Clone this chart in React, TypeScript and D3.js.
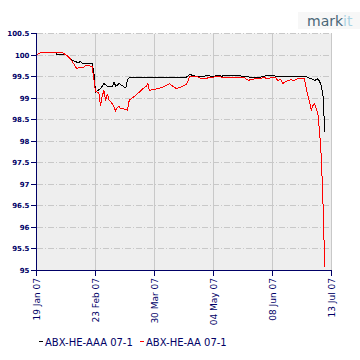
import React from "react";
import * as d3 from "d3";

const xTickDates = ["2007-01-19", "2007-02-23", "2007-03-30", "2007-05-04", "2007-06-08", "2007-07-13"];
const yTickValues = [95, 95.5, 96, 96.5, 97, 97.5, 98, 98.5, 99, 99.5, 100, 100.5];
const seriesNames = ["ABX-HE-AAA 07-1", "ABX-HE-AA 07-1"];
const seriesColors = ["#000000", "#ff0000"];

const aaaDates = [
  "2007-01-19", "2007-01-22", "2007-01-30", "2007-01-31", "2007-02-05", "2007-02-07", "2007-02-09",
  "2007-02-13", "2007-02-14", "2007-02-15", "2007-02-21", "2007-02-22", "2007-02-23", "2007-02-26",
  "2007-02-28", "2007-03-02", "2007-03-05", "2007-03-06", "2007-03-07", "2007-03-09", "2007-03-12",
  "2007-03-13", "2007-03-14", "2007-03-15", "2007-03-27", "2007-04-18", "2007-04-20", "2007-04-23",
  "2007-04-27", "2007-05-01", "2007-05-03", "2007-05-07", "2007-05-09", "2007-05-11", "2007-05-18",
  "2007-05-21", "2007-05-25", "2007-06-01", "2007-06-04", "2007-06-07", "2007-06-11", "2007-06-27",
  "2007-07-01", "2007-07-03", "2007-07-05", "2007-07-06", "2007-07-07", "2007-07-08", "2007-07-09",
];
const aaaValues = [
  100.01, 100.06, 100.07, 100.02, 100.02, 99.95, 99.88,
  99.82, 99.85, 99.81, 99.81, 99.61, 99.14, 99.22,
  99.34, 99.28, 99.27, 99.38, 99.27, 99.34, 99.26,
  99.24, 99.43, 99.48, 99.49, 99.49, 99.55, 99.51,
  99.5, 99.53, 99.5, 99.53, 99.51, 99.53, 99.53,
  99.51, 99.49, 99.49, 99.52, 99.52, 99.51, 99.51,
  99.45, 99.41, 99.45, 99.38, 99.28, 99.05, 98.21,
];

const aaDates = [
  "2007-01-19", "2007-01-22", "2007-02-02", "2007-02-04", "2007-02-07", "2007-02-09", "2007-02-11",
  "2007-02-12", "2007-02-13", "2007-02-16", "2007-02-17", "2007-02-21", "2007-02-23", "2007-02-25",
  "2007-02-26", "2007-02-27", "2007-02-28", "2007-03-01", "2007-03-02", "2007-03-03", "2007-03-05",
  "2007-03-07", "2007-03-08", "2007-03-09", "2007-03-10", "2007-03-12", "2007-03-14", "2007-03-15",
  "2007-03-18", "2007-03-21", "2007-03-23", "2007-03-25", "2007-03-26", "2007-03-27", "2007-03-29",
  "2007-04-01", "2007-04-04", "2007-04-06", "2007-04-08", "2007-04-09", "2007-04-12", "2007-04-15",
  "2007-04-18", "2007-04-20", "2007-04-24", "2007-04-27", "2007-05-01", "2007-05-07", "2007-05-09",
  "2007-05-11", "2007-05-22", "2007-05-23", "2007-05-25", "2007-05-26", "2007-05-31", "2007-06-03",
  "2007-06-05", "2007-06-08", "2007-06-10", "2007-06-11", "2007-06-13", "2007-06-14", "2007-06-17",
  "2007-06-18", "2007-06-19", "2007-06-20", "2007-06-23", "2007-06-27", "2007-06-28", "2007-06-29",
  "2007-06-30", "2007-07-01", "2007-07-02", "2007-07-03", "2007-07-04", "2007-07-05", "2007-07-06",
  "2007-07-07", "2007-07-08", "2007-07-09",
];
const aaValues = [
  100.01, 100.06, 100.07, 100.04, 99.96, 99.86, 99.74,
  99.67, 99.72, 99.72, 99.76, 99.74, 99.16, 99.12,
  98.82, 99.05, 99.18, 98.93, 99.1, 98.96, 98.87,
  98.7, 98.79, 98.8, 98.75, 98.75, 98.72, 98.95,
  99.04, 99.14, 99.22, 99.27, 99.34, 99.18, 99.2,
  99.22, 99.26, 99.3, 99.34, 99.3, 99.22, 99.26,
  99.32, 99.51, 99.5, 99.45, 99.47, 99.51, 99.48,
  99.49, 99.49, 99.45, 99.41, 99.44, 99.45, 99.48,
  99.45, 99.48, 99.48, 99.41, 99.43, 99.34, 99.41,
  99.41, 99.44, 99.4, 99.45, 99.45, 99.22, 99.05,
  98.9, 98.72, 98.83, 98.87, 98.76, 98.6, 98.2,
  97.6, 96.5, 95.07,
];

const NAVY = "#000066";
const GRID = "#c8c8c8";
const BG = "#eeeeee";

const parse = d3.timeParse("%Y-%m-%d");
const fmt = d3.timeFormat("%d %b %y");

export default function App() {
  const tickDates = xTickDates.map((s) => parse(s) as Date);
  const x = d3
    .scaleTime()
    .domain([tickDates[0], tickDates[tickDates.length - 1]])
    .range([36.5, 331.5]);
  const y = d3.scaleLinear().domain([95, 100.5]).range([270.5, 33.5]);
  const yp = (v: number) => Math.round(y(v) - 0.5) + 0.5;
  const xp = (d: Date) => Math.round(x(d) - 0.5) + 0.5;

  const series = [
    aaaDates.map((d, i) => ({ date: parse(d) as Date, value: aaaValues[i] })),
    aaDates.map((d, i) => ({ date: parse(d) as Date, value: aaValues[i] })),
  ];
  const line = d3
    .line<{ date: Date; value: number }>()
    .x((d) => x(d.date))
    .y((d) => y(d.value));

  const left = 36.5;
  const right = 331.5;
  const top = 33.5;
  const bottom = 270.5;

  return (
    <svg
      width={360}
      height={360}
      style={{ position: "absolute", left: 0, top: 0, background: "#fff" }}
      fontFamily="DejaVu Sans"
    >
      <rect x={298} y={12} width={62} height={17} fill="#f7f7f7" />
      <text x={307} y={26} fontSize={14} fontFamily="DejaVu Sans">
        <tspan fill="#4a6778">mark</tspan>
        <tspan fill="#aad3e3">it</tspan>
      </text>

      <rect x={left} y={top} width={right - left} height={bottom - top} fill={BG} />

      {yTickValues.map((v) => (
        <line
          key={"gy" + v}
          x1={left}
          x2={right}
          y1={yp(v)}
          y2={yp(v)}
          stroke={GRID}
          strokeWidth={1}
          strokeDasharray="6,2,1,2"
          shapeRendering="crispEdges"
        />
      ))}
      {tickDates.slice(1).map((d, i) => (
        <line
          key={"gx" + i}
          x1={xp(d)}
          x2={xp(d)}
          y1={top}
          y2={bottom}
          stroke={GRID}
          strokeWidth={1}
          shapeRendering="crispEdges"
        />
      ))}

      {series.map((s, i) => (
        <path
          key={"s" + i}
          d={line(s) || ""}
          fill="none"
          stroke={seriesColors[i]}
          strokeWidth={1}
          shapeRendering="crispEdges"
        />
      ))}

      <line x1={left} x2={left} y1={top} y2={bottom} stroke={NAVY} shapeRendering="crispEdges" />
      <line x1={31} x2={right + 0.5} y1={bottom} y2={bottom} stroke={NAVY} shapeRendering="crispEdges" />
      {yTickValues.map((v) => (
        <g key={"ty" + v}>
          <line x1={31} x2={left} y1={yp(v)} y2={yp(v)} stroke={NAVY} shapeRendering="crispEdges" />
          <text
            x={29.5}
            y={yp(v)}
            dy="0.36em"
            textAnchor="end"
            fontSize={7}
            fontWeight="bold"
            fill={NAVY}
          >
            {d3.format("")(v)}
          </text>
        </g>
      ))}
      {tickDates.map((d, i) => (
        <g key={"tx" + i}>
          <line x1={xp(d)} x2={xp(d)} y1={bottom} y2={bottom + 5} stroke={NAVY} shapeRendering="crispEdges" />
          <text
            transform={`translate(${xp(d) + 3.5},${bottom + 7.5}) rotate(-90)`}
            textAnchor="end"
            fontSize={9}
            fill={NAVY}
          >
            {fmt(d)}
          </text>
        </g>
      ))}

      {seriesNames.map((name, i) => {
        const lx = i === 0 ? 39 : 140;
        return (
          <g key={"lg" + i}>
            <line x1={lx} x2={lx + 4} y1={341.5} y2={341.5} stroke={seriesColors[i]} shapeRendering="crispEdges" />
            <text x={lx + 6} y={346} fontSize={10} fill={NAVY}>
              {name}
            </text>
          </g>
        );
      })}
    </svg>
  );
}
